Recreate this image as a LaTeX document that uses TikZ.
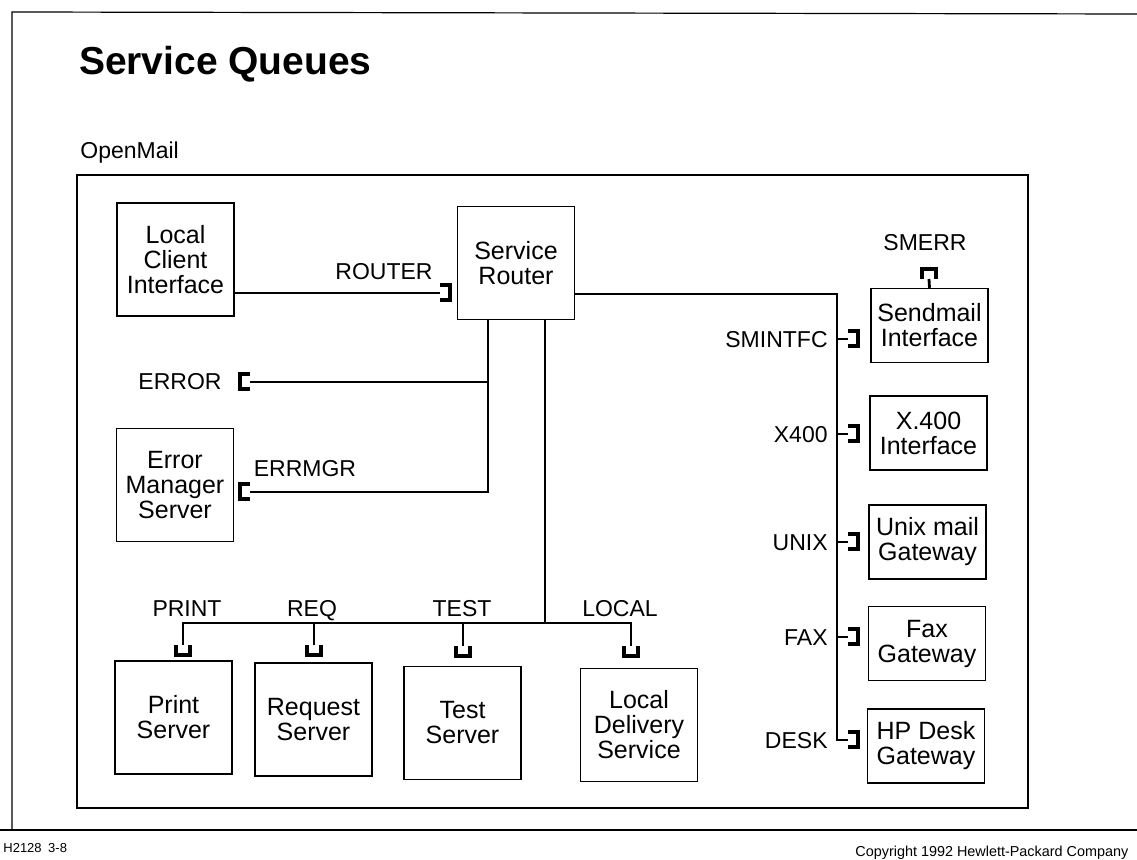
\documentclass[tikz,border=0pt]{standalone}
\usepackage{fontspec}
\setmainfont{Liberation Sans}
\usetikzlibrary{positioning}

\begin{document}
\begin{tikzpicture}[
  x=0.5pt, y=-0.5pt,
  font=\fontsize{11.5}{12}\selectfont,
  box/.style={draw, line width=0.7pt, align=center, inner sep=0pt,
              font=\fontsize{12.5}{12.5}\selectfont},
  bigbox/.style={box, minimum width=58.5pt, minimum height=56.5pt},
  gwbox/.style={box, minimum width=58.5pt, minimum height=37pt},
  queue/.style={inner sep=0pt, outer sep=0pt},
  qv/.style={queue, minimum width=7pt, minimum height=5pt},
  qh/.style={queue, minimum width=5pt, minimum height=7.5pt},
  qline/.style={line width=2pt},
  link/.style={line width=1.4pt},
  frame/.style={line width=0.6pt},
  lbl/.style={inner sep=0pt, text height=8.2pt, text depth=0pt}]

\useasboundingbox (0,0) rectangle (1137,860);
\clip (0,0) rectangle (1137,860);

% page frame and heading
\draw[frame] (12,830) -- (12,12) -- (1137,14);
\draw[frame] (0,830) -- (1137,830);
\node[anchor=west, font=\fontsize{19.5}{19.5}\selectfont\bfseries] (title) at (72,64) {Service Queues};
\node[lbl, anchor=west] (openmail) at (80,150) {OpenMail};
\draw[frame] (77,175) rectangle (1028,808);

% processes
\node[bigbox] (lci) at (175.5,259.5) {Local\\Client\\Interface};
\node[bigbox] (router) at (516,263) {Service\\Router};
\node[bigbox] (errmgr) at (175,485) {Error\\Manager\\Server};
\node[bigbox] (print) at (173.5,717.5) {Print\\Server};
\node[bigbox] (request) at (313.5,719.5) {Request\\Server};
\node[bigbox] (test) at (462.5,723) {Test\\Server};
\node[bigbox] (local) at (639,725) {Local\\Delivery\\Service};
\node[gwbox] (sendmail) at (929.5,325.5) {Sendmail\\Interface};
\node[gwbox] (x400) at (928.5,433) {X.400\\Interface};
\node[gwbox] (unix) at (927.5,542) {Unix mail\\Gateway};
\node[gwbox] (fax) at (927,643.5) {Fax\\Gateway};
\node[gwbox] (hpdesk) at (926,746) {HP Desk\\Gateway};

% queues
\node[qh] (qrouter) at (445,293) {};
\node[qh] (qerror) at (245,382) {};
\node[qh] (qerrmgr) at (245,492) {};
\node[qv] (qprint) at (183,650) {};
\node[qv] (qreq) at (314,650) {};
\node[qv] (qtest) at (463,651) {};
\node[qv] (qlocal) at (631,651) {};
\node[qv] (qsmerr) at (929,274) {};
\node[qh] (qsmintfc) at (853,339) {};
\node[qh] (qx400) at (853,434) {};
\node[qh] (qunix) at (853,542) {};
\node[qh] (qfax) at (853,637) {};
\node[qh] (qdesk) at (853,740) {};

\foreach \q in {qrouter,qsmintfc,qx400,qunix,qfax,qdesk}
  \draw[qline] (\q.north west) -| (\q.south east) -- (\q.south west);
\foreach \q in {qerror,qerrmgr}
  \draw[qline] (\q.north east) -| (\q.south west) -- (\q.south east);
\foreach \q in {qprint,qreq,qtest,qlocal}
  \draw[qline] (\q.north west) |- (\q.south east) -- (\q.north east);
\draw[qline] (qsmerr.south west) |- (qsmerr.north east) -- (qsmerr.south east);

% queue names
\node[lbl] (lrouter) at (384,271) {ROUTER};
\node[lbl] (lerror) at (180,381) {ERROR};
\node[lbl] (lerrmgr) at (305,468) {ERRMGR};
\node[lbl] (lprint) at (187,608) {PRINT};
\node[lbl] (lreq) at (312,608) {REQ};
\node[lbl] (ltest) at (462,608) {TEST};
\node[lbl] (llocal) at (620,608) {LOCAL};
\node[lbl] (lsmerr) at (925,242) {SMERR};
\node[lbl, left=10pt of qsmintfc] (lsmintfc) {SMINTFC};
\node[lbl, left=10pt of qx400] (lx400) {X400};
\node[lbl, left=10pt of qunix] (lunix) {UNIX};
\node[lbl, left=10pt of qfax] (lfax) {FAX};
\node[lbl, left=10pt of qdesk] (ldesk) {DESK};

% connections
\coordinate (j1) at (488,492);
\coordinate (j2) at (545,623);
\coordinate (rt) at (837,294);
\draw[link] (qrouter.west) -- (qrouter.west -| lci.east);
\draw[link] (router.south -| j1) -- (j1) -- (qerrmgr.east);
\draw[link] (qerror.east) -- (qerror.east -| j1);
\draw[link] (router.south -| j2) -- (j2);
\draw[link] (qprint.north) |- (j2) -| (qlocal.north);
\draw[link] (qreq.north) -- (qreq.north |- j2);
\draw[link] (qtest.north) -- (qtest.north |- j2);
\draw[link] (router.east |- rt) -- (rt) |- (qdesk.west);
\foreach \q in {qsmintfc,qx400,qunix,qfax}
  \draw[link] (\q.west) -- (\q.west -| rt);
\draw[link] (sendmail.north) -- (qsmerr.south);

% footer
\node[lbl, anchor=west, text height=5pt, font=\fontsize{6.5}{7}\selectfont] (code) at (3,848) {H2128\enspace 3-8};
\node[lbl, anchor=west, text height=5.5pt, font=\fontsize{7.2}{8}\selectfont] (copyright) at (855,851) {Copyright 1992 Hewlett-Packard Company};
\end{tikzpicture}
\end{document}
